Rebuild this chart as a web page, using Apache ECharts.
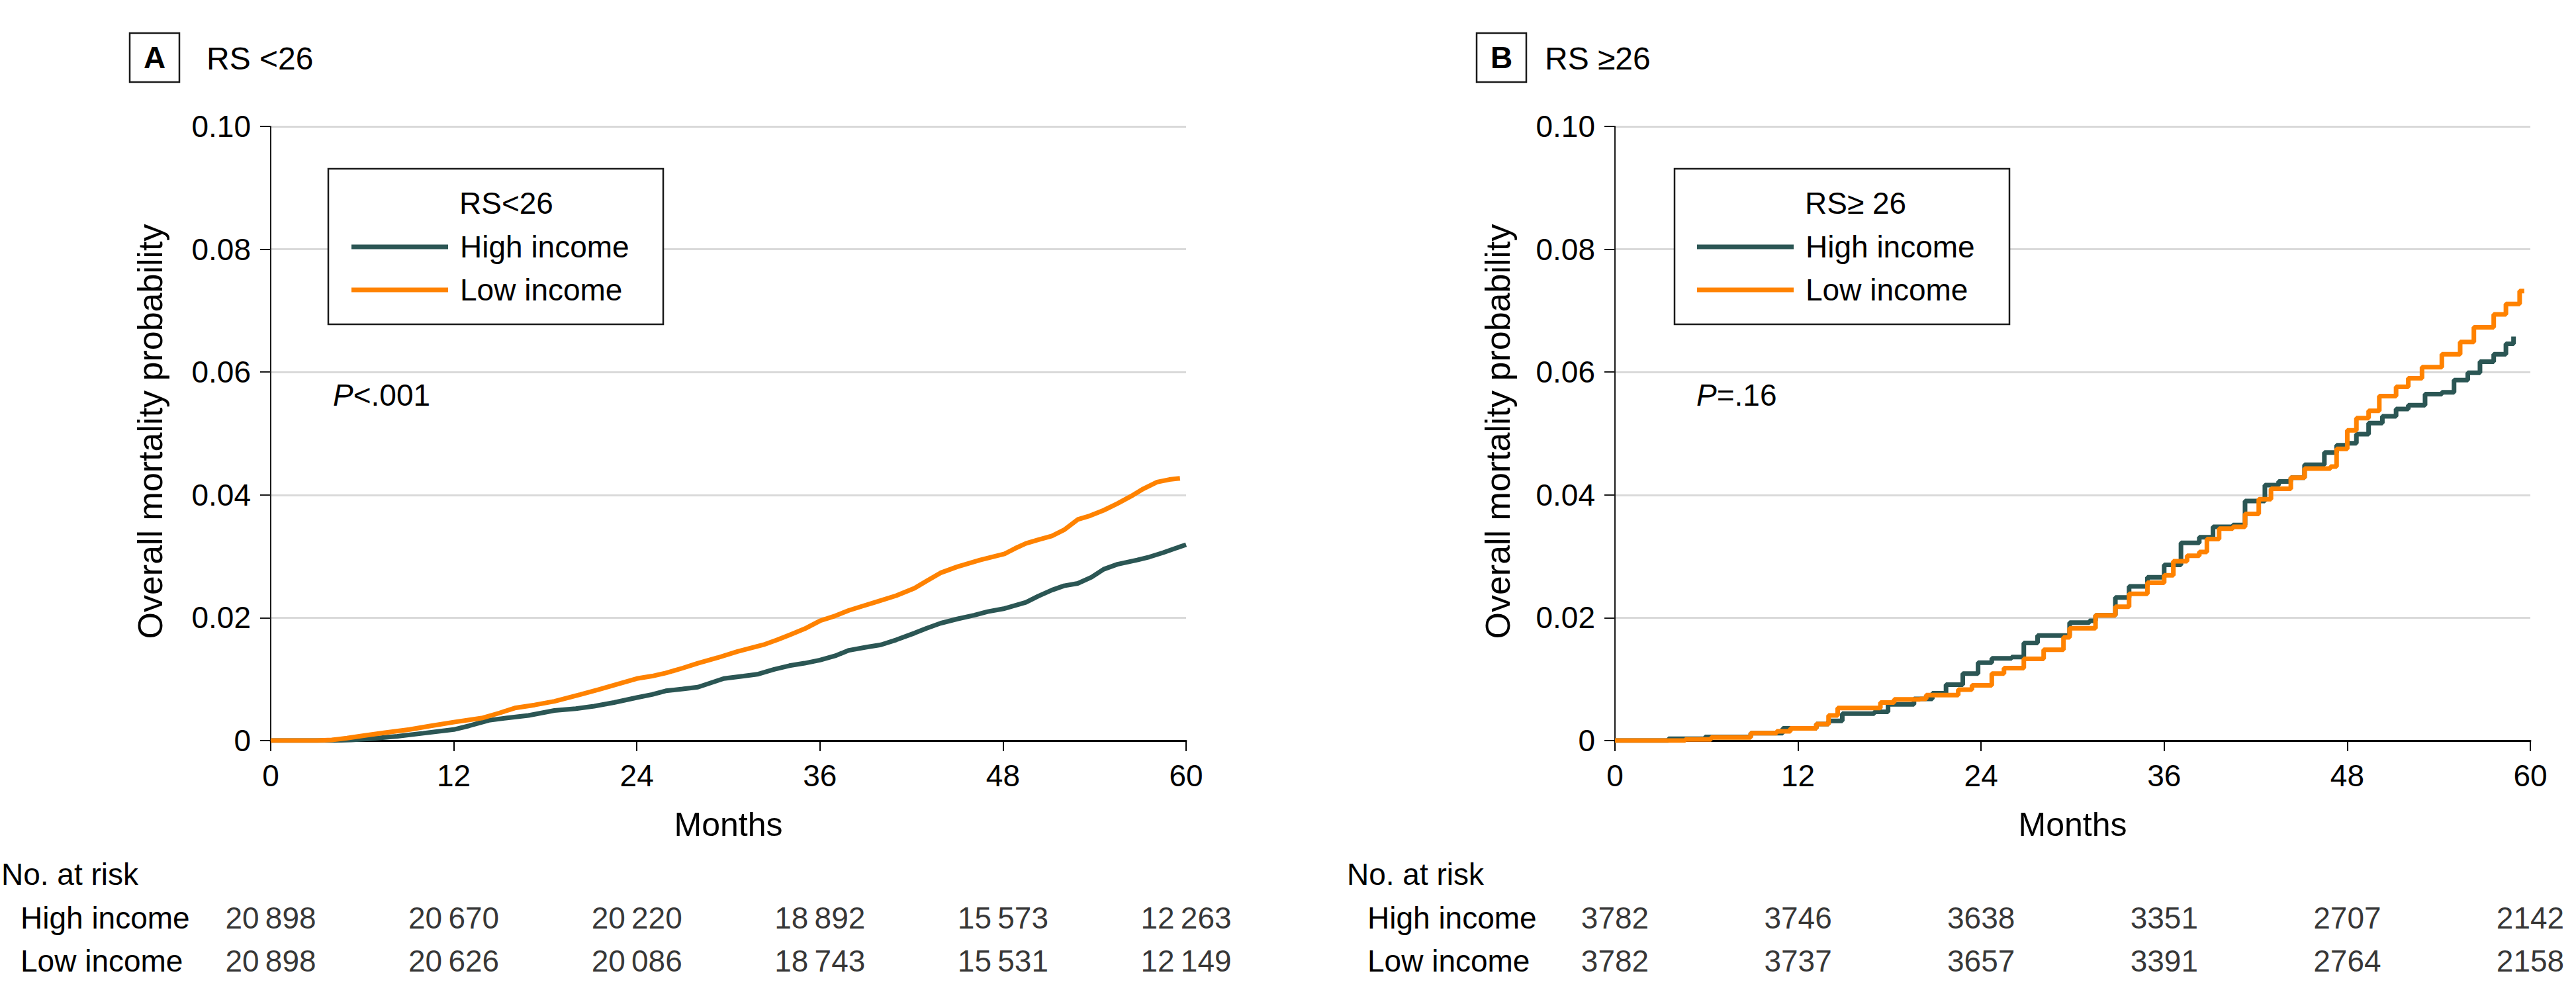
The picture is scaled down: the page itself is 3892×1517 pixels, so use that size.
<!DOCTYPE html>
<html><head><meta charset="utf-8">
<script src="https://cdn.jsdelivr.net/npm/echarts@6/dist/echarts.min.js"></script>
<style>html,body{margin:0;padding:0;background:#fff}#c{width:3892px;height:1517px}</style>
</head><body><div id="c"></div>
<script>
// ---------------- data ----------------
const riskMonths = [0, 12, 24, 36, 48, 60];
const seriesNames = ['High income', 'Low income'];
const panelLetters = ['A', 'B'];
const panelTitles = ['RS <26', 'RS \u226526'];
const legendTitles = ['RS<26', 'RS\u2265 26'];
const pLabels = ['<.001', '=.16'];
const yAxisTitle = 'Overall mortality probability';
const xAxisTitle = 'Months';
const riskTitle = 'No. at risk';

// Panel A (RS <26): cumulative mortality [month, probability]
const aHigh = [[0,0],[4,0],[5.3,0.0001],[6.5,0.0003],[8.3,0.0007],[10,0.0012],[12,0.0018],[13,0.0024],[14.3,0.0033],[15.5,0.0037],[16.9,0.0041],[18.6,0.0049],[20,0.0052],[21.2,0.0056],[22.5,0.0062],[24,0.007],[25,0.0075],[25.9,0.0081],[27,0.0084],[28,0.0087],[29.7,0.0101],[31,0.0105],[31.9,0.0108],[33,0.0116],[34,0.0122],[35,0.0126],[36,0.0131],[37,0.0138],[37.9,0.0147],[39,0.0152],[40,0.0156],[41,0.0164],[42.2,0.0175],[43,0.0183],[43.9,0.0191],[45,0.0198],[46.1,0.0204],[47,0.021],[48.1,0.0215],[49.5,0.0225],[50.3,0.0235],[51.2,0.0245],[52,0.0252],[52.9,0.0256],[53.8,0.0266],[54.6,0.0279],[55.5,0.0287],[56.8,0.0294],[57.6,0.0299],[58.5,0.0306],[59.3,0.0313],[60,0.0319]];
const aLow = [[0,0],[3,0],[4,0.0001],[5,0.0004],[6.1,0.0008],[7.5,0.0013],[9.1,0.0018],[10.5,0.0024],[12,0.003],[13.9,0.0037],[15,0.0045],[16,0.0053],[17.3,0.0058],[18.6,0.0064],[20.3,0.0075],[21.5,0.0083],[22.9,0.0093],[24,0.0101],[25,0.0105],[25.9,0.011],[27,0.0118],[28,0.0126],[29.3,0.0135],[30.6,0.0145],[32.3,0.0156],[33.2,0.0164],[34,0.0172],[35,0.0182],[36,0.0195],[37,0.0203],[37.9,0.0212],[38.8,0.0219],[39.6,0.0225],[41,0.0236],[42.2,0.0248],[43,0.026],[43.9,0.0273],[45,0.0283],[46.5,0.0294],[48.1,0.0304],[48.8,0.0313],[49.5,0.0321],[50.3,0.0327],[51.2,0.0333],[52,0.0343],[52.9,0.036],[53.7,0.0366],[54.6,0.0375],[55.5,0.0386],[56.4,0.0398],[57.2,0.041],[58.1,0.0421],[58.9,0.0425],[59.6,0.0427]];

// Panel B (RS >=26): step points [month, probability after event]
const bHigh = [[0,0],[3.5,0.0003],[5.9,0.0006],[8.9,0.0012],[11,0.002],[13.2,0.0027],[14,0.0032],[14.9,0.0044],[17,0.0047],[17.9,0.0059],[19.6,0.0068],[20.8,0.0077],[21.7,0.0091],[22.8,0.0109],[23.8,0.0127],[24.7,0.0134],[26,0.0136],[26.8,0.0159],[27.7,0.0171],[29.8,0.0192],[31.1,0.0195],[31.5,0.0204],[32.8,0.0233],[33.7,0.0251],[34.9,0.0266],[36,0.0286],[37.1,0.0322],[38.3,0.0331],[39.2,0.0348],[40.5,0.0351],[41.3,0.039],[42.6,0.0416],[43.5,0.0422],[44.3,0.0428],[45.2,0.0449],[46.5,0.0469],[47.3,0.0481],[48,0.0484],[48.6,0.0499],[49.4,0.0517],[50.3,0.0528],[51.2,0.054],[52,0.0546],[53.1,0.0564],[54.2,0.0567],[55,0.0587],[55.9,0.0599],[56.7,0.0617],[57.6,0.0629],[58.4,0.0646],[58.9,0.0658]];
const bLow = [[0,0],[4.6,0.0002],[6.3,0.0005],[8.9,0.0012],[10.6,0.0015],[11.5,0.002],[13.2,0.0027],[14,0.0041],[14.6,0.0053],[17.4,0.0062],[18.3,0.0067],[20,0.0068],[20.4,0.0074],[22.5,0.0083],[23.4,0.009],[24.7,0.0109],[25.5,0.0118],[26.8,0.0133],[28.1,0.0148],[29.4,0.0168],[29.8,0.0183],[31.5,0.0204],[32.8,0.0218],[33.7,0.0239],[34.9,0.0257],[36,0.0269],[36.6,0.0292],[37.5,0.0301],[38.3,0.0307],[38.8,0.0328],[39.6,0.0345],[40.5,0.0348],[41.3,0.0369],[42.2,0.0393],[43,0.041],[44.3,0.0428],[45.2,0.0443],[46.9,0.0446],[47.3,0.0475],[48,0.0505],[48.6,0.0525],[49.4,0.0537],[50.1,0.0561],[51.2,0.0576],[52,0.059],[52.9,0.0608],[54.2,0.0629],[55.4,0.0649],[56.3,0.0673],[57.6,0.0694],[58.4,0.0711],[59.3,0.0732],[59.6,0.0732]];

// Numbers at risk
const riskAHigh = [20898, 20670, 20220, 18892, 15573, 12263];
const riskALow  = [20898, 20626, 20086, 18743, 15531, 12149];
const riskBHigh = [3782, 3746, 3638, 3351, 2707, 2142];
const riskBLow  = [3782, 3737, 3657, 3391, 2764, 2158];

// ---------------- styling / layout ----------------
const FONT = '"Liberation Sans", Arial, sans-serif';
const DARK = '#2b5654';
const ORANGE = '#ff8200';
const FS = 46;
const GRID_TOP = 191, GRID_H = 928, GRID_W = 1383;
const RISK_TOP = 1354, RISK_H = 130;
const panels = [
  {left: 409, boxX: 196, titleX: 312, legBoxX: 496, legTitleX: 694, legX: 531, pX: 503, yTitleX: 227, riskTitleX: 2, rowMargin: 378,
   lines: [aHigh, aLow], step: false, risk: [riskAHigh, riskALow]},
  {left: 2440, boxX: 2231, titleX: 2334, legBoxX: 2530, legTitleX: 2727, legX: 2564, pX: 2563, yTitleX: 2263, riskTitleX: 2035, rowMargin: 374,
   lines: [bHigh, bLow], step: 'end', risk: [riskBHigh, riskBLow]}
];
const fmtN = n => n >= 10000 ? String(n).replace(/(\d+)(\d{3})$/, '$1\u2009$2') : String(n);

function txt(x, y, text, extra) {
  return Object.assign({type: 'text', x: x, y: y, z: 10, style: Object.assign({
    text: text, fill: '#000', fontSize: FS, fontFamily: FONT,
    align: 'left', verticalAlign: 'middle', textAlign: 'left', textVerticalAlign: 'middle'
  }, extra || {})});
}

const grid = [], xAxis = [], yAxis = [], series = [], legend = [], graphic = [];
panels.forEach((p, i) => {
  grid.push({left: p.left, top: GRID_TOP, width: GRID_W, height: GRID_H});
  xAxis.push({type: 'value', gridIndex: i, min: 0, max: 60, interval: 12,
    axisLine: {show: true, lineStyle: {color: '#000', width: 3}},
    axisTick: {show: true, length: 16, lineStyle: {color: '#000', width: 2}},
    axisLabel: {margin: 30, fontSize: FS, color: '#000', fontFamily: FONT},
    splitLine: {show: false}});
  yAxis.push({type: 'value', gridIndex: i, min: 0, max: 0.1, interval: 0.02,
    axisLine: {show: true, lineStyle: {color: '#1a1a1a', width: 2}},
    axisTick: {show: true, length: 16, lineStyle: {color: '#1a1a1a', width: 2}},
    axisLabel: {margin: 30, fontSize: FS, color: '#000', fontFamily: FONT,
      formatter: v => v === 0 ? '0' : v.toFixed(2)},
    splitLine: {show: true, lineStyle: {color: '#d9d9d9', width: 3}}});
});
panels.forEach((p, i) => {
  const gi = 2 + i;
  grid.push({left: p.left, top: RISK_TOP, width: GRID_W, height: RISK_H});
  xAxis.push({type: 'value', gridIndex: gi, min: 0, max: 60, interval: 12, show: false});
  yAxis.push({type: 'category', gridIndex: gi, data: seriesNames, inverse: true,
    axisLine: {show: false}, axisTick: {show: false}, splitLine: {show: false},
    axisLabel: {align: 'left', margin: p.rowMargin, fontSize: FS, color: '#000', fontFamily: FONT}});
});
panels.forEach((p, i) => {
  [DARK, ORANGE].forEach((col, k) => {
    series.push({type: 'line', name: seriesNames[k], xAxisIndex: i, yAxisIndex: i,
      data: p.lines[k], step: p.step, showSymbol: false, symbol: 'none', silent: true,
      lineStyle: {color: col, width: 7}, itemStyle: {color: col}, z: 2 + k});
    series.push({type: 'scatter', xAxisIndex: 2 + i, yAxisIndex: 2 + i, silent: true,
      symbolSize: 1, itemStyle: {color: 'rgba(0,0,0,0)'},
      data: riskMonths.map((m, j) => [m, seriesNames[k], p.risk[k][j]]),
      label: {show: true, position: 'inside', formatter: q => fmtN(q.value[2]),
        fontSize: FS, color: '#000', fontFamily: FONT}});
  });
  legend.push({data: seriesNames, orient: 'vertical', left: p.legX, top: 350, padding: 0,
    itemWidth: 146, itemHeight: 7, itemGap: 19, icon: 'rect', selectedMode: false, z: 6,
    textStyle: {fontSize: FS, color: '#000', fontFamily: FONT, lineHeight: 46, padding: [0, 0, 0, 13]}});

  // panel label box + title
  graphic.push({type: 'rect', z: 5, shape: {x: p.boxX, y: 50, width: 75, height: 74},
    style: {fill: '#fff', stroke: '#1a1a1a', lineWidth: 2.5}});
  graphic.push(txt(p.boxX + 37.5, 87, panelLetters[i], {fontWeight: 'bold', align: 'center', textAlign: 'center'}));
  graphic.push(txt(p.titleX, 88, panelTitles[i], {fontSize: 48}));
  // legend box + title
  graphic.push({type: 'rect', z: 5, shape: {x: p.legBoxX, y: 255, width: 506, height: 235},
    style: {fill: '#fff', stroke: '#1a1a1a', lineWidth: 2.5}});
  graphic.push(txt(p.legTitleX, 307, legendTitles[i]));
  // P value
  graphic.push(txt(p.pX, 597, '{i|P}{n|' + pLabels[i] + '}', {
    rich: {i: {fontStyle: 'italic', fontSize: FS, fontFamily: FONT, fill: '#000', color: '#000'},
           n: {fontSize: FS, fontFamily: FONT, fill: '#000', color: '#000'}}}));
  // axis titles
  graphic.push(Object.assign(txt(p.yTitleX, 652, yAxisTitle, {fontSize: 52, align: 'center', textAlign: 'center'}), {rotation: Math.PI / 2}));
  graphic.push(txt(p.left + GRID_W / 2, 1246, xAxisTitle, {fontSize: 50, align: 'center', textAlign: 'center'}));
  // at-risk header
  graphic.push(txt(p.riskTitleX, 1321, riskTitle));
});

const chart = echarts.init(document.getElementById('c'), null, {renderer: 'svg'});
chart.setOption({animation: false, backgroundColor: '#fff', grid, xAxis, yAxis, series, legend, graphic: {elements: graphic}});
</script></body></html>
